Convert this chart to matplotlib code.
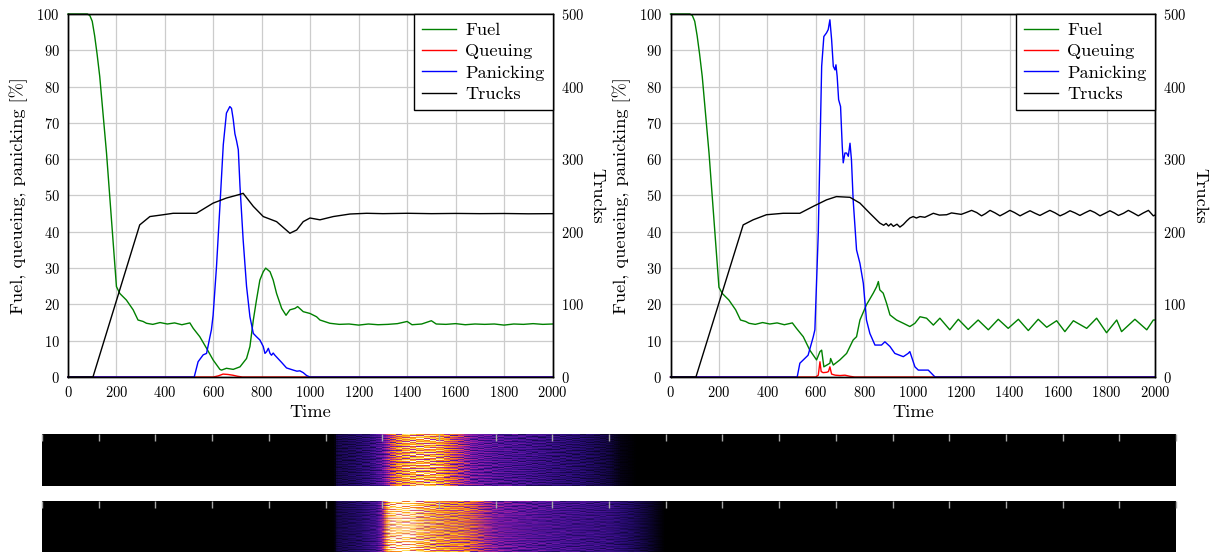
import numpy as np
import matplotlib
matplotlib.use("Agg")
import matplotlib.pyplot as plt
from matplotlib.colors import LinearSegmentedColormap

plt.rcParams['font.family'] = 'cmr10'
plt.rcParams['mathtext.fontset'] = 'cm'
plt.rcParams['axes.unicode_minus'] = False
plt.rcParams['axes.formatter.use_mathtext'] = True

# ---------------- run A (left panel) ----------------
fuel_a_t = [0, 80, 90, 100, 110, 120, 131, 159, 200, 214, 241, 269, 289, 310, 324, 350, 380, 410,
            440, 470, 503, 517, 544, 572, 599, 627, 634, 654, 682, 710, 737, 751, 765, 778,
            792, 806, 816, 834, 847, 861, 882, 900, 916, 937, 948, 971, 999, 1026, 1040, 1081,
            1120, 1160, 1200, 1240, 1280, 1320, 1360, 1400, 1420, 1460, 1500, 1520, 1560, 1600,
            1640, 1680, 1720, 1760, 1800, 1840, 1880, 1920, 1960, 2000]
fuel_a = [100, 100, 99.6, 98, 94, 89, 82.8, 61.7, 24.9, 23, 21.2, 18.5, 15.7, 15.3, 14.8, 14.5,
          15.0, 14.6, 14.9, 14.4, 14.9, 13.4, 11.1, 7.9, 4.7, 2.1, 1.9, 2.4, 2.1, 2.8, 5.1, 8.4,
          15.7, 21.2, 26.7, 29.0, 30.0, 29.0, 26.7, 23.0, 18.9, 17.0, 18.5, 18.9, 19.4, 18.0,
          17.5, 16.6, 15.7, 14.8, 14.5, 14.6, 14.3, 14.6, 14.4, 14.5, 14.7, 15.3, 14.4, 14.6,
          15.5, 14.6, 14.5, 14.7, 14.4, 14.6, 14.5, 14.6, 14.3, 14.6, 14.5, 14.7, 14.5, 14.6]

queue_a_t = [0, 600, 620, 640, 660, 680, 700, 720, 2000]
queue_a = [0, 0, 0.3, 0.8, 0.7, 0.5, 0.2, 0, 0]

panic_a_t = [0, 521, 537, 558, 572, 586, 592, 599, 613, 627, 641, 654, 668, 675, 682, 689, 696,
             703, 710, 723, 737, 751, 765, 778, 792, 806, 813, 820, 827, 834, 840, 847, 854,
             868, 882, 902, 930, 945, 957, 971, 985, 999, 2000]
panic_a = [0, 0, 4.2, 6.1, 6.5, 11.1, 13, 17, 30.4, 47, 64, 72.7, 74.5, 74, 71, 67, 65, 62.6,
           52.5, 37.8, 25, 16.6, 12, 11.1, 10.2, 8.4, 6.5, 7.0, 7.9, 6.5, 6.0, 6.6, 6.0, 5.0,
           4.0, 2.5, 1.9, 1.6, 1.7, 1.2, 0.4, 0, 0]

trucks_a_t = [0, 103, 296, 338, 393, 434, 530, 599, 654, 709, 723, 765, 806, 861, 916, 944, 971,
              999, 1040, 1095, 1164, 1233, 1300, 1400, 1500, 1600, 1700, 1800, 1900, 2000]
trucks_a = [0, 0, 209.5, 221, 223.5, 225.5, 225.5, 239.5, 246.5, 251.5, 253, 235, 221, 214, 198,
            202.5, 214, 219, 216.5, 221, 224.5, 225.5, 225, 225.5, 225, 225.3, 225, 225.2, 224.8, 225]

# ---------------- run B (right panel) ----------------
fuel_b_t = [0, 80, 90, 100, 110, 120, 131, 159, 200, 214, 241, 269, 289, 310, 324, 350, 380, 410,
            440, 470, 503, 520, 548, 575, 603, 617, 624, 633, 658, 661, 672, 699, 727, 754, 768,
            782, 809, 837, 851, 858, 864, 878, 892, 906, 933, 961, 988, 1009, 1030, 1057, 1085,
            1112, 1153, 1188, 1229, 1270, 1312, 1353, 1394, 1436, 1477, 1518, 1553, 1594, 1628,
            1663, 1718, 1759, 1800, 1842, 1862, 1917, 1966, 1993, 2000]
fuel_b = [100, 100, 99.6, 98, 94, 89, 82.8, 61.7, 24.7, 23, 21.2, 18.5, 15.7, 15.3, 14.8, 14.5,
          15.0, 14.6, 14.9, 14.4, 14.9, 13.4, 11.1, 7.4, 4.7, 7.0, 7.4, 2.8, 3.8, 5.1, 3.3, 4.7,
          6.5, 10.2, 11.1, 15.7, 19.9, 23.1, 24.9, 26.3, 24.0, 23.1, 20.3, 17.1, 15.7, 14.8, 13.9,
          14.8, 16.6, 16.2, 14.3, 16.2, 13.0, 15.9, 13.1, 15.7, 13.0, 15.9, 13.4, 15.9, 12.8, 15.9,
          13.7, 15.5, 12.5, 15.5, 13.4, 16.2, 12.2, 15.7, 12.5, 15.9, 13.0, 15.7, 15.7]

queue_b_t = [0, 600, 610, 617, 622, 630, 645, 652, 658, 665, 680, 700, 720, 740, 760, 2000]
queue_b = [0, 0, 0.5, 4.2, 1.5, 1.2, 1.3, 1.5, 2.8, 0.8, 0.5, 0.4, 0.5, 0.2, 0, 0]

panic_b_t = [0, 523, 534, 548, 568, 589, 596, 610, 624, 633, 644, 651, 658, 665, 672, 679, 683,
             688, 694, 702, 709, 713, 720, 727, 734, 741, 747, 754, 768, 782, 796, 809, 823, 844,
             871, 885, 906, 926, 961, 981, 988, 1009, 1023, 1064, 1092, 2000]
panic_b = [0, 0, 3.8, 4.7, 6.0, 11, 13, 39.6, 85.6, 93.8, 94.8, 95.7, 98.4, 93, 85.6, 84.6, 86,
           82.8, 76.4, 74.5, 63.5, 59, 61.7, 61.7, 60.8, 64.4, 59.8, 48.8, 35, 31.3, 25.8, 15.7,
           12, 8.8, 8.8, 9.7, 8.4, 6.5, 5.6, 6.5, 7, 2.8, 1.9, 1.9, 0, 0]

trucks_b_t = [0, 105, 300, 341, 396, 465, 534, 589, 644, 685, 741, 782, 823, 864, 880, 890, 900,
              910, 920, 935, 947, 961, 975, 988, 1002, 1015, 1030, 1050, 1085, 1110, 1140, 1160,
              1200, 1220, 1243, 1264, 1284, 1300, 1319, 1340, 1360, 1380, 1401, 1420, 1443, 1463,
              1484, 1505, 1525, 1545, 1566, 1588, 1608, 1628, 1649, 1670, 1690, 1710, 1732, 1752,
              1773, 1794, 1814, 1832, 1849, 1870, 1890, 1910, 1931, 1952, 1973, 1993, 2000]
trucks_b = [0, 0, 209.5, 216.5, 223.5, 225.5, 225.5, 235, 244, 248.5, 247.5, 239.5, 225.5, 212,
            209, 211.5, 208, 211, 207.5, 210.5, 206.5, 210, 215, 219, 221, 219, 221, 220, 225.5,
            223, 223.5, 226, 224, 226.5, 229.5, 226.5, 222, 225, 229.5, 226, 222, 225.5, 229.5,
            226.5, 222, 225.5, 229, 225.5, 222.5, 226, 229.5, 226, 222, 225, 229, 226, 222.5, 226,
            229.5, 226.5, 222, 225.5, 229, 226, 222.5, 225.5, 229.5, 226, 222, 226, 229.5, 222, 223]

# ---------------- per-agent panic intensity strips ----------------
strip_a_t = [0, 515, 520, 550, 580, 600, 615, 630, 650, 670, 690, 705, 720, 740, 760, 800, 850,
             900, 950, 1000, 1020, 1050, 2000]
strip_a = [0, 0, 0.14, 0.18, 0.25, 0.36, 0.55, 0.72, 0.8, 0.82, 0.8, 0.75, 0.62, 0.5, 0.4, 0.34,
           0.3, 0.25, 0.2, 0.12, 0.04, 0, 0]
strip_b_t = [0, 515, 520, 560, 590, 600, 610, 620, 640, 655, 662, 680, 700, 720, 740, 760, 780,
             800, 850, 900, 950, 1000, 1040, 1070, 1090, 1100, 2000]
strip_b = [0, 0, 0.14, 0.2, 0.3, 0.45, 0.85, 0.97, 1.0, 0.97, 0.86, 0.8, 0.75, 0.7, 0.68, 0.6,
           0.5, 0.42, 0.36, 0.32, 0.29, 0.26, 0.18, 0.1, 0.03, 0, 0]
row_weights = [0.92, 1.10, 0.62, 1.15, 0.97, 0.58, 1.05, 1.22, 0.86, 0.55, 1.02, 1.12, 0.74,
               0.95, 1.25, 0.68, 1.00, 1.08, 0.72, 1.16, 0.90, 0.60, 1.10, 0.98, 1.20, 0.78,
               1.03, 0.84, 1.13, 0.66, 0.99, 1.07, 0.57, 1.18, 0.93, 1.01, 0.70, 1.14, 0.88,
               1.06, 0.64, 1.21, 0.82, 0.96, 1.09, 0.61, 1.17, 0.76, 1.04, 0.87, 1.19, 0.71]
# row offset applied in each time block, so that streaks stay short
block_shift_a = [0, 7, 3, 11, 5, 17, 9, 2, 14, 6, 20, 1, 12, 8, 25, 4, 16, 10, 29, 13, 22, 15,
                 31, 18, 27, 19, 33, 23, 26, 21, 37, 41, 35, 44, 39, 46, 43]
block_shift_b = [5, 13, 1, 19, 8, 24, 3, 15, 10, 28, 6, 17, 2, 21, 12, 30, 9, 26, 4, 14, 32, 11,
                 22, 7, 18, 34, 16, 25, 0, 20, 40, 36, 45, 38, 42, 47, 33]

GREEN, RED, BLUE = '#008000', '#ff0000', '#0000ff'
TICK_FS, LABEL_FS = 10.4, 13.2

fig = plt.figure(figsize=(12.11, 5.52), dpi=100)
W, H = 1211.0, 552.0


def panel(left, fuel_t, fuel, queue_t, queue, panic_t, panic, trucks_t, trucks):
    ax = fig.add_axes([left / W, (H - 377) / H, 484.5 / W, 363 / H])
    h1, = ax.plot(fuel_t, fuel, color=GREEN, lw=1.0, clip_on=False)
    h2, = ax.plot(queue_t, queue, color=RED, lw=1.0, clip_on=False)
    h3, = ax.plot(panic_t, panic, color=BLUE, lw=1.0, clip_on=False)
    ax.set_xlim(0, 2000)
    ax.set_ylim(0, 100)
    ax.set_xticks(range(0, 2001, 200))
    ax.set_yticks(range(0, 101, 10))
    ax.grid(True, color='#cccccc', lw=0.9)
    ax.set_axisbelow(True)
    ax.tick_params(length=0, labelsize=TICK_FS, pad=6)
    ax.set_xlabel('Time', fontsize=LABEL_FS, labelpad=3)
    ax.set_ylabel('Fuel, queueing, panicking [%]', fontsize=LABEL_FS, labelpad=6)
    for s in ax.spines.values():
        s.set_linewidth(1.0)

    axr = ax.twinx()
    h4, = axr.plot(trucks_t, trucks, color='black', lw=1.0, clip_on=False)
    axr.set_ylim(0, 500)
    axr.set_yticks(range(0, 501, 100))
    axr.tick_params(length=0, labelsize=TICK_FS, pad=6)
    axr.set_ylabel('Trucks', fontsize=LABEL_FS, rotation=-90, va='bottom', labelpad=4)
    for s in axr.spines.values():
        s.set_linewidth(1.0)
    leg = axr.legend([h1, h2, h3, h4], ['Fuel', 'Queuing', 'Panicking', 'Trucks'],
                     loc='upper right', borderaxespad=0, fancybox=False, framealpha=1,
                     edgecolor='black', fontsize=LABEL_FS, handlelength=1.85,
                     handletextpad=0.5, labelspacing=0.3, borderpad=0.45)
    leg.get_frame().set_linewidth(1.0)


panel(68, fuel_a_t, fuel_a, queue_a_t, queue_a, panic_a_t, panic_a, trucks_a_t, trucks_a)
panel(670.5, fuel_b_t, fuel_b, queue_b_t, queue_b, panic_b_t, panic_b, trucks_b_t, trucks_b)

heat_cmap = LinearSegmentedColormap.from_list('heat', [
    (0.0, '#000000'), (0.1, '#0e0534'), (0.22, '#2a0c78'), (0.35, '#5a14a4'),
    (0.46, '#9a1ea8'), (0.55, '#d0406a'), (0.63, '#f47020'), (0.74, '#ffa010'),
    (0.86, '#ffd838'), (0.95, '#fff6c8'), (1.0, '#ffffff')])

# one column per two output pixels
grid_t = np.linspace(0, 2000, 567)
BLOCK = 12


def strip(top, bottom, prof_t, prof, shifts):
    ax = fig.add_axes([42 / W, (H - bottom) / H, 1134 / W, (bottom - top) / H])
    col = np.interp(grid_t, prof_t, prof)
    weights = np.array(row_weights)
    img = np.empty((len(weights), len(grid_t)))
    for j, t in enumerate(grid_t):
        k = int(t // BLOCK)
        img[:, j] = np.roll(weights, shifts[k % len(shifts)] + 3 * (k // len(shifts))) * col[j]
    img = np.clip(img, 0, 1)
    ax.imshow(img, cmap=heat_cmap, vmin=0, vmax=1, aspect='auto', interpolation='antialiased',
              extent=[0, 2000, 0, 1])
    ax.set_xlim(0, 2000)
    ax.set_xticks(range(0, 2001, 100))
    ax.set_yticks([])
    ax.tick_params(axis='x', top=True, bottom=False, direction='in', length=5, width=1,
                   color='#a8a8a8', labeltop=False, labelbottom=False)
    for s in ax.spines.values():
        s.set_visible(False)


strip(434, 486, strip_a_t, strip_a, block_shift_a)
strip(501, 552, strip_b_t, strip_b, block_shift_b)

fig.savefig('out.png', dpi=100)
